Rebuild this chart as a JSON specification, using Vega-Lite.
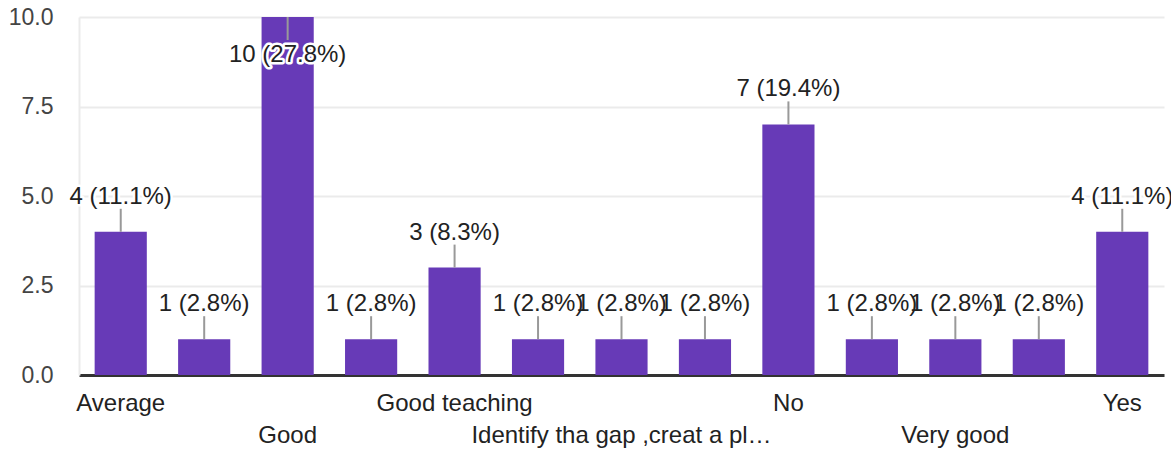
{
  "$schema": "https://vega.github.io/schema/vega-lite/v6.json",
  "width": 1085,
  "height": 358,
  "autosize": "none",
  "padding": {"left": 79, "top": 17, "right": 7, "bottom": 77},
  "background": "white",
  "config": {
    "view": {"stroke": null},
    "font": "Liberation Sans",
    "axis": {"labelFont": "Liberation Sans", "labelFontSize": 23}
  },
  "data": {
    "values": [
      {"answer": "Average", "count": 4, "label": "4 (11.1%)"},
      {"answer": "Excellent", "count": 1, "label": "1 (2.8%)"},
      {"answer": "Good", "count": 10, "label": "10 (27.8%)"},
      {"answer": "Good job", "count": 1, "label": "1 (2.8%)"},
      {"answer": "Good teaching", "count": 3, "label": "3 (8.3%)"},
      {"answer": "Great", "count": 1, "label": "1 (2.8%)"},
      {"answer": "Identify tha gap ,creat a pl…", "count": 1, "label": "1 (2.8%)"},
      {"answer": "It's good", "count": 1, "label": "1 (2.8%)"},
      {"answer": "No", "count": 7, "label": "7 (19.4%)"},
      {"answer": "Satisfactory", "count": 1, "label": "1 (2.8%)"},
      {"answer": "Very good", "count": 1, "label": "1 (2.8%)"},
      {"answer": "Well done", "count": 1, "label": "1 (2.8%)"},
      {"answer": "Yes", "count": 4, "label": "4 (11.1%)"}
    ]
  },
  "encoding": {
    "x": {
      "field": "answer",
      "type": "nominal",
      "sort": null,
      "scale": {"paddingInner": 0.375, "paddingOuter": 0.1875},
      "axis": {
        "title": null,
        "labelAngle": 0,
        "ticks": false,
        "domainColor": "#333333",
        "domainWidth": 3,
        "labelColor": "#222222",
        "labelFontSize": 24,
        "labelBaseline": "top",
        "labelPadding": 16,
        "labelLineHeight": 32,
        "labelOverlap": false,
        "labelFlush": false,
        "labelLimit": 400,
        "labelExpr": "indexof(['Good','Identify tha gap ,creat a pl…','Very good'], datum.value) >= 0 ? [' ', datum.value] : (indexof(['Average','Good teaching','No','Yes'], datum.value) >= 0 ? datum.value : '')"
      }
    }
  },
  "layer": [
    {
      "mark": {"type": "bar", "color": "#673ab7"},
      "encoding": {
        "y": {
          "field": "count",
          "type": "quantitative",
          "scale": {"domain": [0, 10], "nice": false},
          "axis": {
            "title": null,
            "values": [0, 2.5, 5, 7.5, 10],
            "format": ".1f",
            "ticks": false,
            "domain": true,
            "domainColor": "#ebebeb",
            "domainWidth": 2,
            "gridColor": "#ebebeb",
            "gridWidth": 2,
            "labelColor": "#444444",
            "labelPadding": 26
          }
        }
      }
    },
    {
      "transform": [{"filter": "datum.count < 10"}],
      "mark": {"type": "rule", "color": "#999999", "strokeWidth": 2, "y2Offset": -23},
      "encoding": {
        "y": {"field": "count", "type": "quantitative"},
        "y2": {"field": "count"}
      }
    },
    {
      "transform": [{"filter": "datum.count >= 10"}],
      "mark": {"type": "rule", "color": "#999999", "strokeWidth": 2, "y2Offset": 23},
      "encoding": {
        "y": {"field": "count", "type": "quantitative"},
        "y2": {"field": "count"}
      }
    },
    {
      "transform": [{"filter": "datum.count < 10"}],
      "mark": {"type": "text", "fontSize": 24, "baseline": "middle", "dy": -35, "fill": "white", "stroke": "white", "strokeWidth": 5, "strokeJoin": "round"},
      "encoding": {
        "y": {"field": "count", "type": "quantitative"},
        "text": {"field": "label"}
      }
    },
    {
      "transform": [{"filter": "datum.count < 10"}],
      "mark": {"type": "text", "fontSize": 24, "baseline": "middle", "dy": -35, "color": "#222222"},
      "encoding": {
        "y": {"field": "count", "type": "quantitative"},
        "text": {"field": "label"}
      }
    },
    {
      "transform": [{"filter": "datum.count >= 10"}],
      "mark": {"type": "text", "fontSize": 24, "baseline": "middle", "dy": 38, "fill": "white", "stroke": "white", "strokeWidth": 5, "strokeJoin": "round"},
      "encoding": {
        "y": {"field": "count", "type": "quantitative"},
        "text": {"field": "label"}
      }
    },
    {
      "transform": [{"filter": "datum.count >= 10"}],
      "mark": {"type": "text", "fontSize": 24, "baseline": "middle", "dy": 38, "color": "#222222"},
      "encoding": {
        "y": {"field": "count", "type": "quantitative"},
        "text": {"field": "label"}
      }
    }
  ]
}
